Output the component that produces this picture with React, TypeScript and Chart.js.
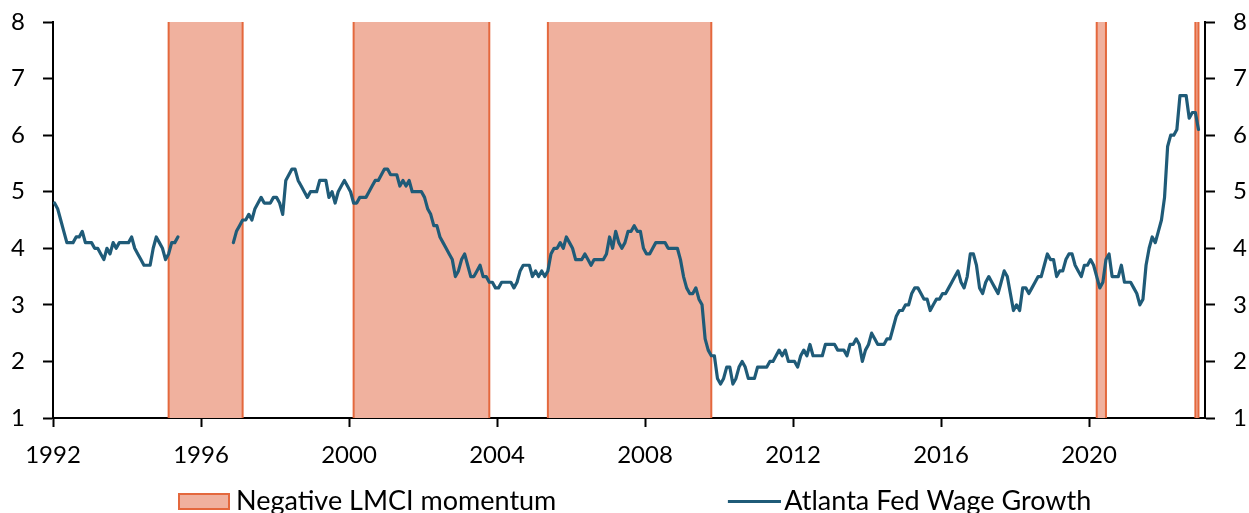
import React, { useEffect, useRef } from 'react';
import { Chart, registerables } from 'chart.js';

Chart.register(...registerables);

// ---------- data ----------
const years = [
  1992, 1993, 1994, 1995, 1996, 1997, 1998, 1999, 2000, 2001, 2002, 2003, 2004, 2005, 2006, 2007,
  2008, 2009, 2010, 2011, 2012, 2013, 2014, 2015, 2016, 2017, 2018, 2019, 2020, 2021, 2022,
];

// Atlanta Fed Wage Growth, monthly (Jan..Dec), % y/y
const wage1992 = [4.8, 4.7, 4.5, 4.3, 4.1, 4.1, 4.1, 4.2, 4.2, 4.3, 4.1, 4.1];
const wage1993 = [4.1, 4.0, 4.0, 3.9, 3.8, 4.0, 3.9, 4.1, 4.0, 4.1, 4.1, 4.1];
const wage1994 = [4.1, 4.2, 4.0, 3.9, 3.8, 3.7, 3.7, 3.7, 4.0, 4.2, 4.1, 4.0];
const wage1995 = [3.8, 3.9, 4.1, 4.1, 4.2, null, null, null, null, null, null, null];
const wage1996 = [null, null, null, null, null, null, null, null, null, null, 4.1, 4.3];
const wage1997 = [4.4, 4.5, 4.5, 4.6, 4.5, 4.7, 4.8, 4.9, 4.8, 4.8, 4.8, 4.9];
const wage1998 = [4.9, 4.8, 4.6, 5.2, 5.3, 5.4, 5.4, 5.2, 5.1, 5.0, 4.9, 5.0];
const wage1999 = [5.0, 5.0, 5.2, 5.2, 5.2, 4.9, 5.0, 4.8, 5.0, 5.1, 5.2, 5.1];
const wage2000 = [5.0, 4.8, 4.8, 4.9, 4.9, 4.9, 5.0, 5.1, 5.2, 5.2, 5.3, 5.4];
const wage2001 = [5.4, 5.3, 5.3, 5.3, 5.1, 5.2, 5.1, 5.2, 5.0, 5.0, 5.0, 5.0];
const wage2002 = [4.9, 4.7, 4.6, 4.4, 4.4, 4.2, 4.1, 4.0, 3.9, 3.8, 3.5, 3.6];
const wage2003 = [3.8, 3.9, 3.7, 3.5, 3.5, 3.6, 3.7, 3.5, 3.5, 3.4, 3.4, 3.3];
const wage2004 = [3.3, 3.4, 3.4, 3.4, 3.4, 3.3, 3.4, 3.6, 3.7, 3.7, 3.7, 3.5];
const wage2005 = [3.6, 3.5, 3.6, 3.5, 3.6, 3.9, 4.0, 4.0, 4.1, 4.0, 4.2, 4.1];
const wage2006 = [4.0, 3.8, 3.8, 3.8, 3.9, 3.8, 3.7, 3.8, 3.8, 3.8, 3.8, 3.9];
const wage2007 = [4.2, 4.0, 4.3, 4.1, 4.0, 4.1, 4.3, 4.3, 4.4, 4.3, 4.3, 4.0];
const wage2008 = [3.9, 3.9, 4.0, 4.1, 4.1, 4.1, 4.1, 4.0, 4.0, 4.0, 4.0, 3.8];
const wage2009 = [3.5, 3.3, 3.2, 3.2, 3.3, 3.1, 3.0, 2.4, 2.2, 2.1, 2.1, 1.7];
const wage2010 = [1.6, 1.7, 1.9, 1.9, 1.6, 1.7, 1.9, 2.0, 1.9, 1.7, 1.7, 1.7];
const wage2011 = [1.9, 1.9, 1.9, 1.9, 2.0, 2.0, 2.1, 2.2, 2.1, 2.2, 2.0, 2.0];
const wage2012 = [2.0, 1.9, 2.1, 2.2, 2.1, 2.3, 2.1, 2.1, 2.1, 2.1, 2.3, 2.3];
const wage2013 = [2.3, 2.3, 2.2, 2.2, 2.2, 2.1, 2.3, 2.3, 2.4, 2.3, 2.0, 2.2];
const wage2014 = [2.3, 2.5, 2.4, 2.3, 2.3, 2.3, 2.4, 2.4, 2.6, 2.8, 2.9, 2.9];
const wage2015 = [3.0, 3.0, 3.2, 3.3, 3.3, 3.2, 3.1, 3.1, 2.9, 3.0, 3.1, 3.1];
const wage2016 = [3.2, 3.2, 3.3, 3.4, 3.5, 3.6, 3.4, 3.3, 3.5, 3.9, 3.9, 3.7];
const wage2017 = [3.3, 3.2, 3.4, 3.5, 3.4, 3.3, 3.2, 3.4, 3.6, 3.5, 3.2, 2.9];
const wage2018 = [3.0, 2.9, 3.3, 3.3, 3.2, 3.3, 3.4, 3.5, 3.5, 3.7, 3.9, 3.8];
const wage2019 = [3.8, 3.5, 3.6, 3.6, 3.8, 3.9, 3.9, 3.7, 3.6, 3.5, 3.7, 3.7];
const wage2020 = [3.8, 3.7, 3.5, 3.3, 3.4, 3.8, 3.9, 3.5, 3.5, 3.5, 3.7, 3.4];
const wage2021 = [3.4, 3.4, 3.3, 3.2, 3.0, 3.1, 3.7, 4.0, 4.2, 4.1, 4.3, 4.5];
const wage2022 = [4.9, 5.8, 6.0, 6.0, 6.1, 6.7, 6.7, 6.7, 6.3, 6.4, 6.4, 6.1];

const wageByYear = [
  wage1992, wage1993, wage1994, wage1995, wage1996, wage1997, wage1998, wage1999, wage2000,
  wage2001, wage2002, wage2003, wage2004, wage2005, wage2006, wage2007, wage2008, wage2009,
  wage2010, wage2011, wage2012, wage2013, wage2014, wage2015, wage2016, wage2017, wage2018,
  wage2019, wage2020, wage2021, wage2022,
];

// Negative LMCI momentum periods (first and last month)
const lmciStarts = ['1995-02', '2000-02', '2005-05', '2020-03', '2022-11'];
const lmciEnds = ['1997-02', '2003-10', '2009-10', '2020-06', '2022-12'];

const xTickYears = [1992, 1996, 2000, 2004, 2008, 2012, 2016, 2020];
const yTicks = [1, 2, 3, 4, 5, 6, 7, 8];
const xMin = 1992;
const xMax = 2023.135;

const legendLabels = ['Negative LMCI momentum', 'Atlanta Fed Wage Growth'];

// ---------- style ----------
const FONT = 'Lato';
const LINE = '#1F5B78';
const SHADE = '#F0B19E';
const ORANGE = '#E4683D';

const toX = (s: string) => {
  const [y, m] = s.split('-').map(Number);
  return y + (m - 0.5) / 12;
};

function makeShadeIcon() {
  const c = document.createElement('canvas');
  c.width = 223;
  c.height = 17;
  const g = c.getContext('2d')!;
  g.fillStyle = SHADE;
  g.fillRect(171, 0, 52, 17);
  g.strokeStyle = ORANGE;
  g.lineWidth = 2;
  g.strokeRect(172, 1, 50, 15);
  return c;
}

function makeLineIcon() {
  const c = document.createElement('canvas');
  c.width = 228;
  c.height = 3;
  const g = c.getContext('2d')!;
  g.fillStyle = LINE;
  g.fillRect(175, 0, 53, 3);
  return c;
}

const axisGrid = (tickLength: number) => ({
  display: true,
  drawOnChartArea: false,
  drawTicks: true,
  tickLength,
  tickColor: '#000',
  tickWidth: 2,
  color: '#000',
});

export default function App() {
  const ref = useRef<HTMLCanvasElement | null>(null);

  useEffect(() => {
    if (!ref.current) return;
    const yMin = yTicks[0];
    const yMax = yTicks[yTicks.length - 1];

    const wagePoints = wageByYear.flatMap((vals, i) =>
      vals.map((v, j) => ({ x: years[i] + (j + 0.5) / 12, y: v }))
    );

    const shadeDatasets = lmciStarts.map((s, i) => ({
      type: 'line' as const,
      label: legendLabels[0],
      data: [
        { x: toX(s), y: yMin },
        { x: toX(s), y: yMax },
        { x: toX(lmciEnds[i]), y: yMax },
        { x: toX(lmciEnds[i]), y: yMin },
      ],
      borderColor: ORANGE,
      backgroundColor: SHADE,
      borderWidth: 2,
      fill: 'start',
      pointRadius: 0,
      tension: 0,
      order: 1,
      segment: {
        borderColor: (ctx: any) => (ctx.p0DataIndex === 1 ? 'rgba(0,0,0,0)' : ORANGE),
      },
    }));

    const shadeIcon = makeShadeIcon();
    const lineIcon = makeLineIcon();

    const yAxis = (position: 'left' | 'right', width: number) => ({
      type: 'linear',
      position,
      min: yMin,
      max: yMax,
      grid: axisGrid(10),
      border: { display: true, color: '#000', width: 2 },
      ticks: {
        stepSize: 1,
        padding: 18,
        color: '#000',
        font: { family: FONT, size: 24 },
      },
      afterBuildTicks: (scale: any) => {
        scale.ticks = yTicks.map((value) => ({ value }));
      },
      afterFit: (scale: any) => {
        scale.width = width;
        scale.paddingTop = 0;
        scale.paddingBottom = 0;
      },
    });

    const chart = new Chart(ref.current, {
      type: 'line',
      data: {
        datasets: [
          {
            label: legendLabels[1],
            data: wagePoints,
            borderColor: LINE,
            backgroundColor: LINE,
            borderWidth: 3.2,
            pointRadius: 0,
            tension: 0,
            spanGaps: false,
            fill: false,
            borderJoinStyle: 'round',
            borderCapStyle: 'round',
            order: 0,
          },
          ...shadeDatasets,
        ] as any,
      },
      options: {
        responsive: false,
        devicePixelRatio: 1,
        animation: false,
        layout: { padding: { left: 8, top: 22, right: 0, bottom: 0 } },
        scales: {
          x: {
            type: 'linear',
            min: xMin,
            max: xMax,
            bounds: 'data',
            grid: axisGrid(9),
            border: { display: true, color: '#000', width: 2 },
            ticks: {
              autoSkip: false,
              maxRotation: 0,
              padding: 14,
              color: '#000',
              font: { family: FONT, size: 24 },
              callback: (v: any) => String(v),
            },
            afterBuildTicks: (scale: any) => {
              scale.ticks = xTickYears.map((value) => ({ value }));
            },
            afterFit: (scale: any) => {
              scale.height = 63.5;
              scale.paddingLeft = 0;
              scale.paddingRight = 0;
            },
          },
          y: yAxis('left', 45),
          y2: yAxis('right', 44),
        },
        plugins: {
          tooltip: { enabled: false },
          legend: {
            display: true,
            position: 'bottom',
            align: 'start',
            labels: {
              usePointStyle: true,
              pointStyleWidth: 208,
              boxHeight: 17,
              padding: 6.5,
              color: '#000',
              font: { family: FONT, size: 27 },
              generateLabels: () => [
                {
                  text: legendLabels[0],
                  pointStyle: shadeIcon,
                  fillStyle: SHADE,
                  strokeStyle: ORANGE,
                  lineWidth: 0,
                  fontColor: '#000',
                  hidden: false,
                  datasetIndex: 1,
                },
                {
                  text: legendLabels[1],
                  pointStyle: lineIcon,
                  fillStyle: LINE,
                  strokeStyle: LINE,
                  lineWidth: 0,
                  fontColor: '#000',
                  hidden: false,
                  datasetIndex: 0,
                },
              ] as any,
            },
          },
        },
      } as any,
    });

    return () => chart.destroy();
  }, []);

  return (
    <div
      style={{
        position: 'fixed',
        left: 0,
        top: 0,
        width: 1249,
        height: 513,
        overflow: 'hidden',
        background: '#fff',
      }}
    >
      <canvas
        ref={ref}
        width={1249}
        height={525}
        style={{ display: 'block', width: 1249, height: 525 }}
      />
    </div>
  );
}
